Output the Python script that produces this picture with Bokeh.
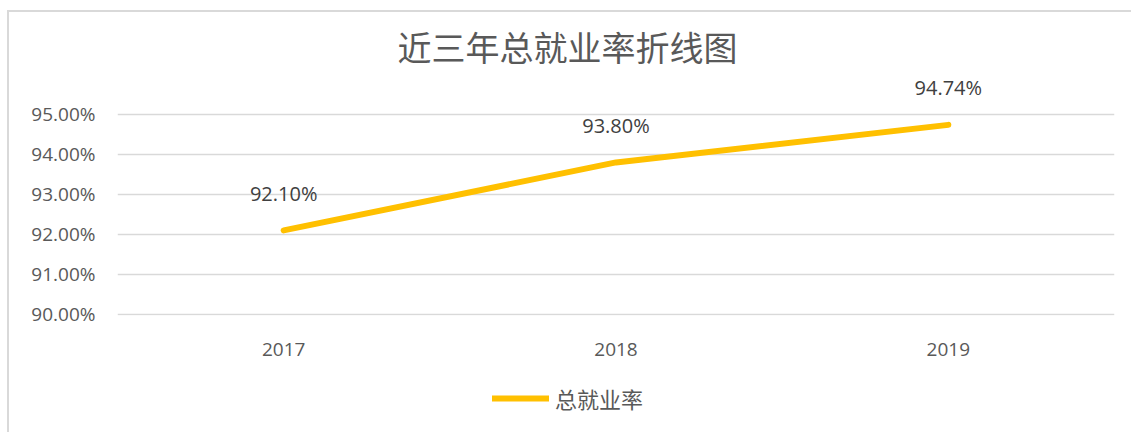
from bokeh.plotting import figure
from bokeh.layouts import column
from bokeh.models import (Range1d, FixedTicker, PrintfTickFormatter, Legend, LegendItem,
                          ColumnDataSource, LabelSet)
from bokeh.core.properties import value
from bokeh.embed import file_html
from bokeh.resources import INLINE

title_text = "近三年总就业率折线图"
series_name = "总就业率"
years = ["2017", "2018", "2019"]
rates = [92.10, 93.80, 94.74]
rate_labels = ["92.10%", "93.80%", "94.74%"]
y_ticks = [90, 91, 92, 93, 94, 95]

LINE_COLOR = "#FFC000"
src = ColumnDataSource(dict(year=years, rate=rates, label=rate_labels))

p = figure(x_range=years, y_range=Range1d(89.97, 96), width=1124, height=360,
           output_backend="svg", toolbar_location=None,
           min_border_left=108, min_border_right=19, min_border_top=62, min_border_bottom=57)
p.outline_line_color = None

p.title.text = title_text
p.title.align = "left"
p.title.offset = 280
p.title.standoff = 7
p.title.text_font = "Noto Sans CJK SC"
p.title.text_font_size = "34px"
p.title.text_font_style = "normal"
p.title.text_color = "#595959"

r = p.line("year", "rate", source=src, line_color=LINE_COLOR, line_width=6, line_cap="round")

labels = LabelSet(x="year", y="rate", text="label", source=src, y_offset=37,
                  text_align="center", text_baseline="middle", text_font=value("Open Sans"),
                  text_font_size="20px", text_color="#404040")
p.add_layout(labels)

p.yaxis.ticker = FixedTicker(ticks=y_ticks)
p.yaxis.formatter = PrintfTickFormatter(format="%.2f%%")
for ax in (p.xaxis, p.yaxis):
    ax.axis_line_color = None
    ax.major_tick_line_color = None
    ax.minor_tick_line_color = None
    ax.major_label_text_font = "Open Sans"
    ax.major_label_text_font_size = "19px"
    ax.major_label_text_color = "#595959"
p.yaxis.major_label_standoff = 16
p.xaxis.major_label_standoff = 21

p.xgrid.grid_line_color = None
p.ygrid.grid_line_color = "#d9d9d9"
p.ygrid.grid_line_width = 1.5

# legend strip below the chart (its line sits outside the strip's visible range)
pl = figure(width=1124, height=62, x_range=p.x_range, y_range=Range1d(0, 1),
            output_backend="svg", toolbar_location=None, min_border=0)
pl.outline_line_color = None
pl.axis.visible = False
pl.grid.visible = False
rl = pl.line("year", "rate", source=src, line_color=LINE_COLOR, line_width=6, line_cap="round")
legend = Legend(items=[LegendItem(label=series_name, renderers=[rl])], orientation="horizontal",
                location=(375, 20), border_line_color=None, background_fill_alpha=0,
                glyph_width=57, label_standoff=6, label_text_font="Noto Sans CJK SC",
                label_text_font_size="22px", label_text_color="#595959", padding=5, margin=0)
pl.add_layout(legend)

layout = column(p, pl, spacing=0, margin=(10, 0, 0, 7),
                styles={"border-top": "2px solid #d9d9d9", "border-left": "2px solid #d9d9d9"})

open("out.html", "w").write(file_html(layout, INLINE))
